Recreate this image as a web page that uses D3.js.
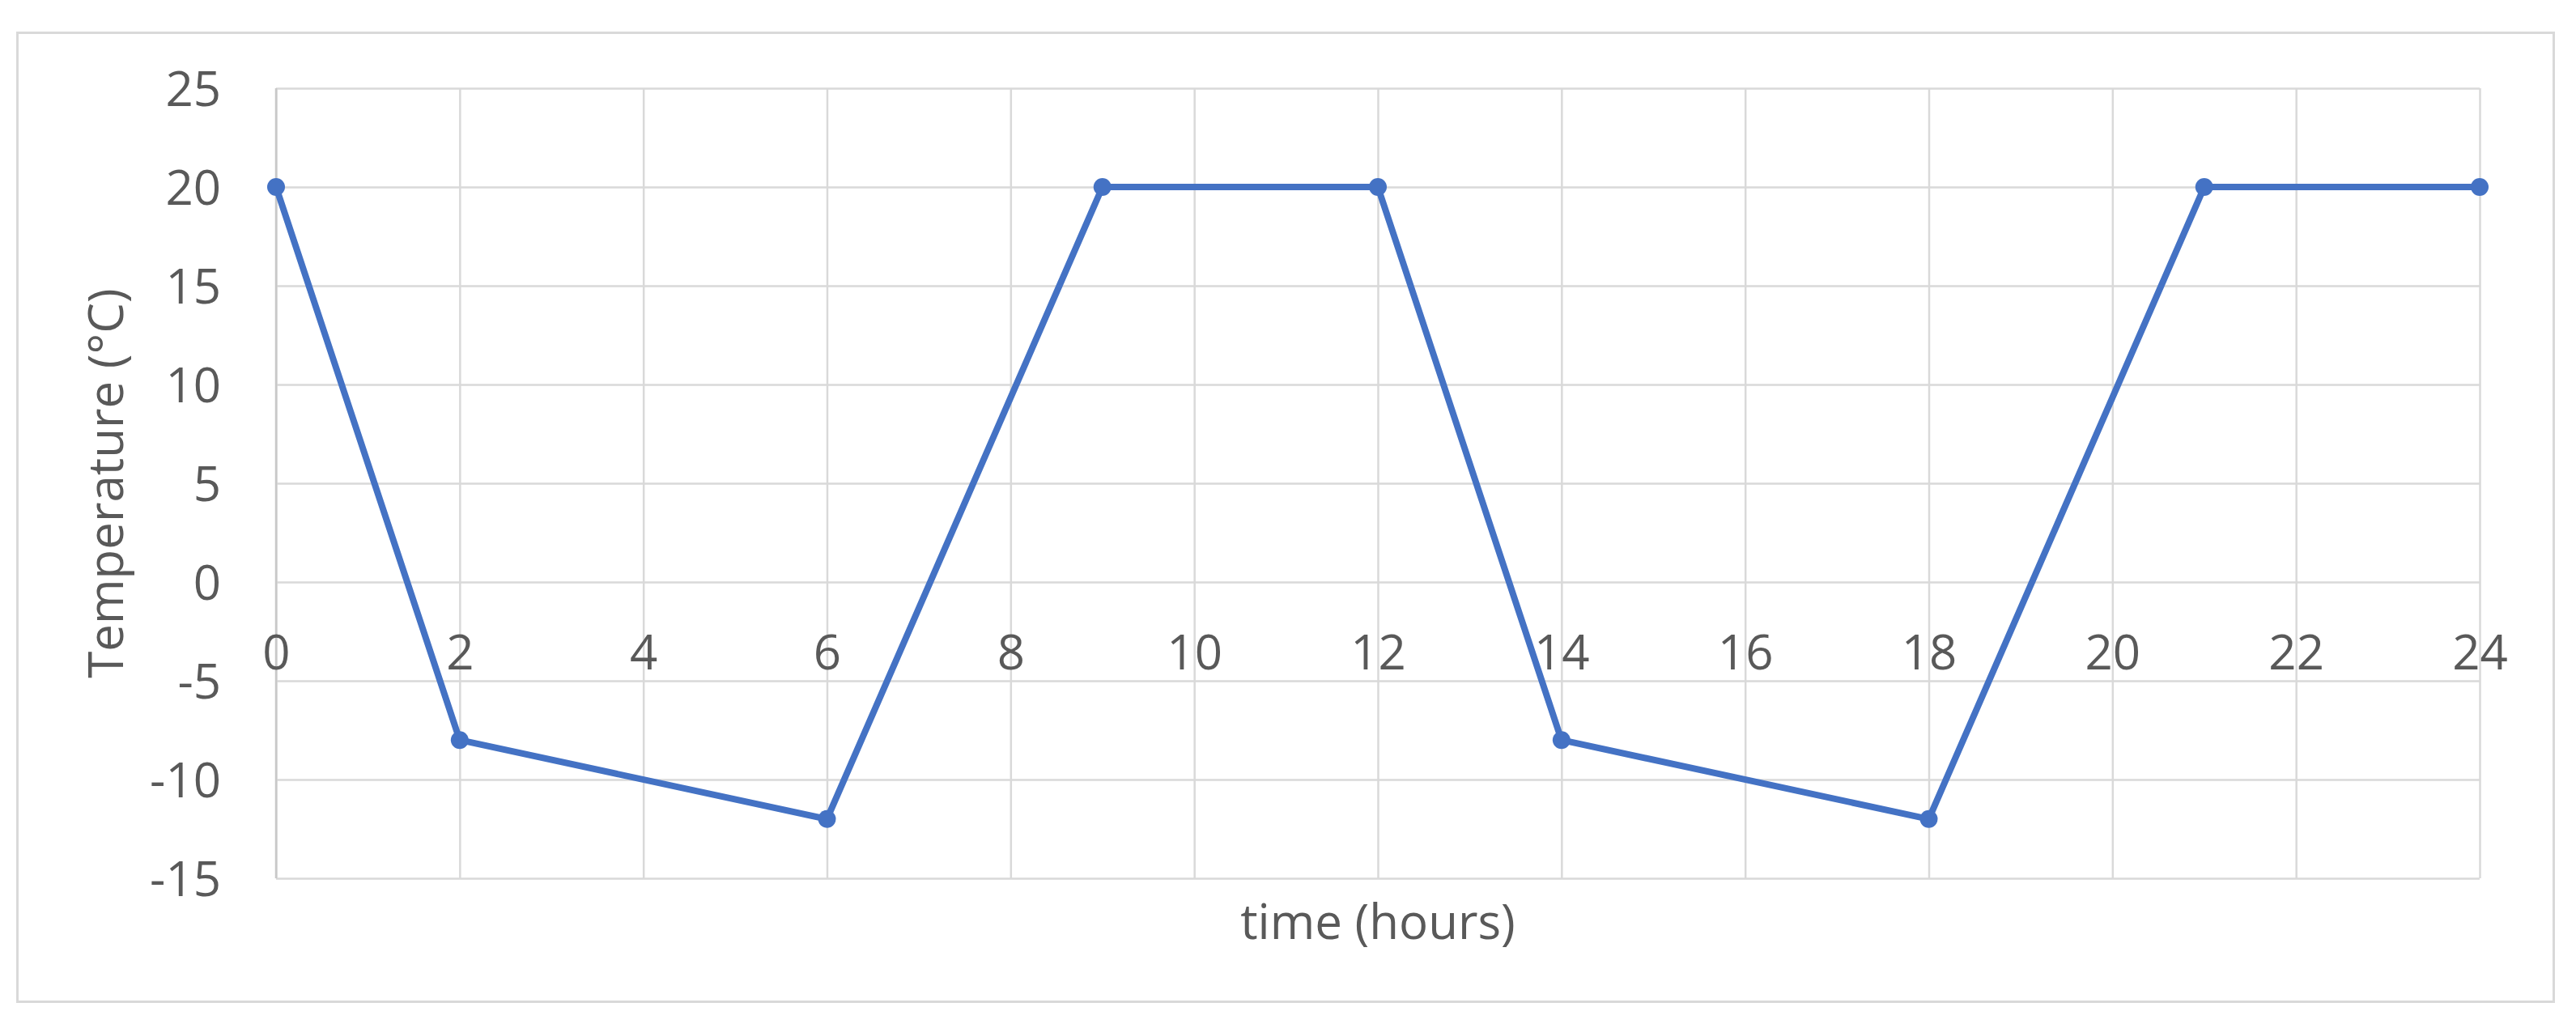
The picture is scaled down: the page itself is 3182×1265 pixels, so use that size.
<!DOCTYPE html>
<html>
<head>
<meta charset="utf-8">
<script src="https://cdn.jsdelivr.net/npm/d3@7"></script>
<style>
  html, body { margin: 0; padding: 0; background: #ffffff; }
  svg { display: block; }
</style>
</head>
<body>
<svg id="chart" width="3182" height="1265"></svg>
<script>
// ---- data ----
const hours = [0, 2, 6, 9, 12, 14, 18, 21, 24];
const temps = [20, -8, -12, 20, 20, -8, -12, 20, 20];
const xTicks = [0, 2, 4, 6, 8, 10, 12, 14, 16, 18, 20, 22, 24];
const yTicks = [-15, -10, -5, 0, 5, 10, 15, 20, 25];
const xTitle = "time (hours)";
const yTitle = "Temperature (°C)";

// ---- layout ----
const W = 3182, H = 1265;
const plot = { left: 341, right: 3063, top: 109, bottom: 1085 };
const font = "'Open Sans', 'Noto Sans', sans-serif";
const textColor = "#595959";
const gridColor = "#d9d9d9";
const lineColor = "#4472c4";

const svg = d3.select("#chart");

svg.append("rect").attr("x", 0).attr("y", 0).attr("width", W).attr("height", H).attr("fill", "#fff");
svg.append("rect")
  .attr("x", 21.5).attr("y", 40.5).attr("width", 3154 - 21).attr("height", 1237 - 40)
  .attr("fill", "#fff").attr("stroke", gridColor).attr("stroke-width", 3);

const x = d3.scaleLinear().domain([0, 24]).range([plot.left, plot.right]);
const y = d3.scaleLinear().domain([-15, 25]).range([plot.bottom, plot.top]);

// horizontal gridlines
svg.append("g")
  .attr("transform", `translate(${plot.left},0)`)
  .call(d3.axisLeft(y).tickValues(yTicks).tickSize(-(plot.right - plot.left)).tickFormat(""))
  .call(g => g.select(".domain").remove())
  .call(g => g.selectAll("line").attr("stroke", gridColor).attr("stroke-width", 2.5));

// vertical gridlines
svg.append("g")
  .attr("transform", `translate(0,${plot.bottom})`)
  .call(d3.axisBottom(x).tickValues(xTicks).tickSize(-(plot.bottom - plot.top)).tickFormat(""))
  .call(g => g.select(".domain").remove())
  .call(g => g.selectAll("line").attr("stroke", gridColor).attr("stroke-width", 2.5));

// left axis line
svg.append("line")
  .attr("x1", plot.left).attr("x2", plot.left).attr("y1", plot.top).attr("y2", plot.bottom)
  .attr("stroke", "#c8c8c8").attr("stroke-width", 2.5);

// y tick labels
svg.append("g")
  .attr("transform", `translate(${plot.left},0)`)
  .call(d3.axisLeft(y).tickValues(yTicks).tickSize(0).tickPadding(68).tickFormat(d => String(d).replace("−", "-")))
  .call(g => g.select(".domain").remove())
  .call(g => g.selectAll("text")
    .attr("fill", textColor).attr("font-family", font).attr("font-size", 60)
    .attr("dy", "0.35em"));

// x tick labels, sitting on the y=0 line
svg.append("g")
  .attr("transform", `translate(0,${y(0)})`)
  .call(d3.axisBottom(x).tickValues(xTicks).tickSize(0).tickPadding(0).tickFormat(d => String(d)))
  .call(g => g.select(".domain").remove())
  .call(g => g.selectAll("text")
    .attr("fill", textColor).attr("font-family", font).attr("font-size", 60)
    .attr("dy", null).attr("y", 108));

// axis titles
svg.append("text")
  .attr("x", (plot.left + plot.right) / 2).attr("y", 1160)
  .attr("text-anchor", "middle")
  .attr("fill", textColor).attr("font-family", font).attr("font-size", 60)
  .text(xTitle);

svg.append("text")
  .attr("transform", `translate(152,${(plot.top + plot.bottom) / 2}) rotate(-90)`)
  .attr("text-anchor", "middle")
  .attr("fill", textColor).attr("font-family", font).attr("font-size", 60)
  .text(yTitle);

// series
const pts = hours.map((h, i) => ({ h, t: temps[i] }));
svg.append("path")
  .datum(pts)
  .attr("fill", "none").attr("stroke", lineColor).attr("stroke-width", 8)
  .attr("stroke-linejoin", "round")
  .attr("d", d3.line().x(d => x(d.h)).y(d => y(d.t)));

svg.append("g").selectAll("circle")
  .data(pts).join("circle")
  .attr("cx", d => x(d.h)).attr("cy", d => y(d.t)).attr("r", 11)
  .attr("fill", lineColor);
</script>
</body>
</html>
